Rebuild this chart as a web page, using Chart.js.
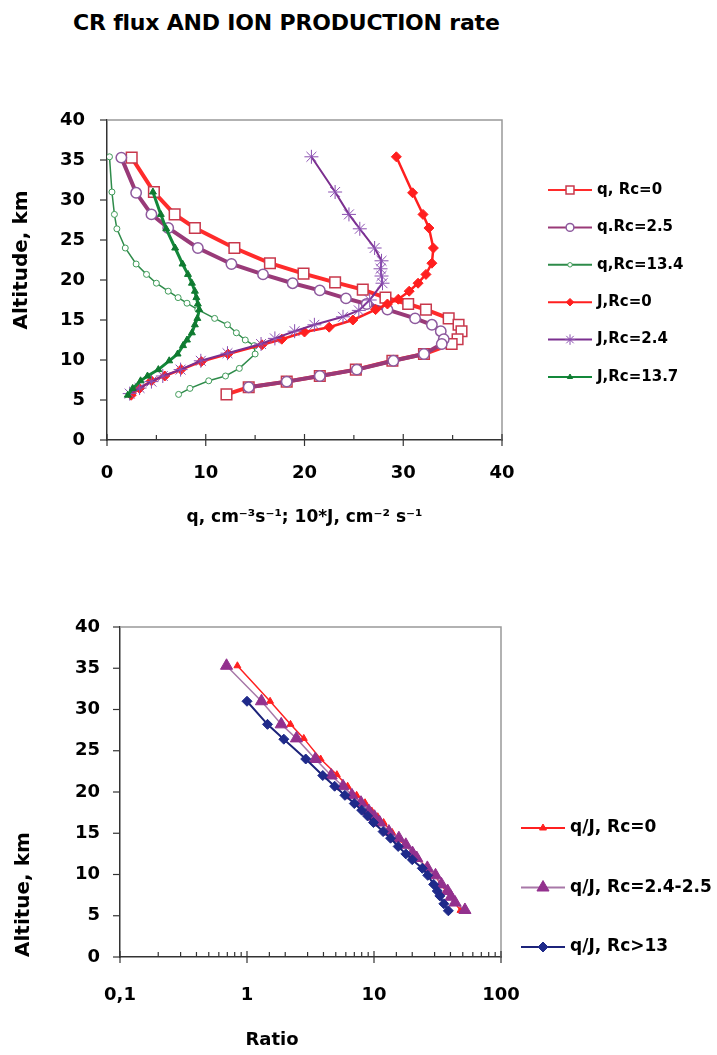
<!DOCTYPE html>
<html lang="en">
<head>
<meta charset="UTF-8">
<title>CR flux AND ION PRODUCTION rate</title>
<script src="https://cdn.jsdelivr.net/npm/chart.js"></script>
<style>
    body { margin: 0; background: #fff; }
    .page { position: relative; width: 717px; height: 1055px; overflow: hidden; }
    .titulo {
        position: absolute; left: 73px; top: 12px;
        font: bold 22px "DejaVu Sans", sans-serif; line-height: 22px;
        letter-spacing: -0.2px; color: #000; white-space: nowrap;
    }
    .box_top { position: absolute; left: 0; top: 0; width: 717px; height: 540px; }
    .box_bottom { position: absolute; left: 0; top: 560px; width: 717px; height: 495px; }
</style>
</head>
<body>
<div class="page">
    <div class="titulo">CR flux AND ION PRODUCTION rate</div>
    <div class="box_top"><canvas id="grafico_fluxo"></canvas></div>
    <div class="box_bottom"><canvas id="grafico_razao"></canvas></div>
</div>

<script>
// ---- top chart: q and 10*J against altitude ----
var altQ0  = [35.3, 31.0, 28.2, 26.5, 24.0, 22.1, 20.8, 19.7, 18.8, 17.8, 17.0, 16.3, 15.2, 14.4, 13.6, 12.6, 12.0, 10.75, 9.9, 8.8, 8.0, 7.3, 6.6, 5.7];
var qRc0   = [2.5, 4.75, 6.85, 8.9, 12.9, 16.5, 19.9, 23.1, 25.9, 28.2, 30.5, 32.3, 34.6, 35.6, 35.9, 35.5, 34.9, 32.1, 28.9, 25.2, 21.55, 18.2, 14.35, 12.1];

var altQ25 = [35.3, 30.9, 28.2, 26.5, 24.0, 22.0, 20.7, 19.6, 18.7, 17.7, 17.0, 16.3, 15.2, 14.4, 13.6, 12.6, 12.0, 10.75, 9.9, 8.8, 8.0, 7.3, 6.6];
var qRc25  = [1.45, 2.95, 4.5, 6.2, 9.2, 12.6, 15.8, 18.8, 21.55, 24.2, 26.3, 28.4, 31.2, 32.9, 33.8, 34.1, 33.9, 32.1, 29.0, 25.3, 21.55, 18.2, 14.35];

var altQ134 = [35.4, 31.0, 28.2, 26.4, 24.0, 22.0, 20.7, 19.6, 18.6, 17.8, 17.1, 16.3, 15.2, 14.4, 13.4, 12.5, 11.8, 10.75, 8.95, 8.0, 7.4, 6.45, 5.7];
var qRc134  = [0.25, 0.5, 0.75, 1.0, 1.85, 2.95, 4.0, 5.0, 6.2, 7.2, 8.1, 9.2, 10.9, 12.2, 13.1, 14.0, 14.9, 15.0, 13.4, 12.0, 10.3, 8.4, 7.25];

var altJ0 = [35.4, 30.9, 28.2, 26.5, 24.0, 22.1, 20.7, 19.6, 18.6, 17.6, 17.0, 16.3, 15.0, 14.1, 13.5, 12.6, 11.9, 10.75, 9.8, 8.8, 8.0, 7.4, 6.45, 5.6];
var jRc0  = [29.3, 30.95, 32.0, 32.6, 33.05, 32.9, 32.3, 31.5, 30.6, 29.5, 28.4, 27.2, 24.9, 22.5, 20.0, 17.7, 15.7, 12.25, 9.55, 7.5, 5.85, 4.5, 3.3, 2.45];

var altJ24 = [35.4, 31.0, 28.2, 26.4, 24.0, 22.4, 21.4, 20.5, 19.6, 17.5, 16.2, 15.4, 14.4, 13.6, 12.7, 12.0, 10.85, 9.9, 8.8, 8.0, 7.3, 6.5, 5.8];
var jRc24  = [20.7, 23.1, 24.5, 25.6, 27.1, 27.8, 27.7, 27.8, 27.9, 26.6, 25.5, 23.9, 21.0, 19.0, 17.0, 15.6, 12.2, 9.5, 7.45, 5.65, 4.5, 3.3, 2.3];

var altJ137 = [31.0, 28.2, 26.4, 24.0, 22.0, 20.7, 19.6, 18.6, 17.8, 17.0, 16.3, 15.2, 14.4, 13.4, 12.5, 11.8, 10.75, 9.9, 8.8, 8.0, 7.4, 6.45, 5.6];
var jRc137  = [4.65, 5.45, 6.0, 6.9, 7.65, 8.2, 8.6, 8.9, 9.05, 9.2, 9.35, 9.15, 8.9, 8.6, 8.1, 7.7, 7.15, 6.3, 5.2, 4.1, 3.4, 2.6, 2.1];

// ---- bottom chart: ratio q/J against altitude ----
var altR0    = [35.3, 31.0, 28.2, 26.5, 24.0, 22.1, 20.7, 19.6, 18.7, 17.7, 17.0, 16.3, 15.1, 14.2, 13.5, 12.6, 12.0, 10.75, 9.85, 8.8, 8.0, 7.35, 6.5, 5.65];
var ratioRc0 = [0.84, 1.52, 2.2, 2.8, 3.8, 5.1, 6.2, 7.3, 8.5, 9.6, 10.7, 11.9, 13.9, 15.8, 17.9, 20.1, 22.2, 26.2, 30.3, 33.6, 36.8, 40.4, 43.5, 48];

var altR25    = [35.3, 31.0, 28.2, 26.5, 24.0, 22.0, 20.7, 19.6, 18.7, 17.7, 17.0, 16.3, 15.2, 14.4, 13.6, 12.6, 12.0, 10.8, 9.9, 8.8, 8.0, 7.3, 6.6, 5.7];
var ratioRc25 = [0.69, 1.3, 1.86, 2.45, 3.45, 4.6, 5.7, 6.7, 7.9, 9.1, 10.1, 11.1, 13.1, 15.7, 17.8, 20.1, 21.7, 26.3, 30.5, 34, 38, 40.4, 43.5, 52];

var altR13    = [31.0, 28.2, 26.4, 24.0, 22.0, 20.7, 19.6, 18.6, 17.8, 17.1, 16.3, 15.2, 14.4, 13.4, 12.5, 11.8, 10.75, 9.9, 8.8, 8.0, 7.4, 6.45, 5.6];
var ratioRc13 = [1.0, 1.45, 1.95, 2.9, 3.95, 4.9, 5.9, 7.0, 8.0, 8.9, 9.9, 11.8, 13.5, 15.5, 17.8, 20.0, 24.0, 26.5, 29.5, 31.5, 33.0, 35.5, 38.5];

var logTickValues = [0.1, 1, 10, 100];
var logTickLabels = ['0,1', '1', '10', '100'];

function pontos(alts, vals) {
    return alts.map(function (a, i) { return { x: vals[i], y: a }; });
}

var fonte = '"DejaVu Sans", sans-serif';
Chart.defaults.color = '#000';
Chart.defaults.font.family = fonte;

// tick marks (major ones cross the axis, minor ones stay inside) + grey frame
var marcasEixo = {
    id: 'marcasEixo',
    afterDraw: function (chart) {
        var ctx = chart.ctx, a = chart.chartArea;
        var sx = chart.scales.x, sy = chart.scales.y;
        ctx.save();
        ctx.strokeStyle = '#999';
        ctx.lineWidth = 1.5;
        ctx.beginPath();
        ctx.moveTo(a.left, a.top);
        ctx.lineTo(a.right, a.top);
        ctx.lineTo(a.right, a.bottom);
        ctx.stroke();
        ctx.strokeStyle = '#333';
        ctx.lineWidth = 1.2;
        sx.ticks.forEach(function (t) {
            var px = sx.getPixelForValue(t.value);
            var major = t.label !== '';
            ctx.beginPath();
            ctx.moveTo(px, a.bottom - (major ? 6 : 5));
            ctx.lineTo(px, a.bottom + (major ? 6 : 0));
            ctx.stroke();
        });
        sy.ticks.forEach(function (t) {
            var py = sy.getPixelForValue(t.value);
            ctx.beginPath();
            ctx.moveTo(a.left - 7, py);
            ctx.lineTo(a.left, py);
            ctx.stroke();
        });
        ctx.restore();
    }
};

// axis titles placed by hand where the built-in centring doesn't match
var titulosEixo = {
    id: 'titulosEixo',
    afterDraw: function (chart, args, opts) {
        var ctx = chart.ctx;
        (opts.itens || []).forEach(function (it) {
            ctx.save();
            ctx.font = it.font;
            ctx.fillStyle = '#000';
            ctx.textAlign = 'center';
            ctx.textBaseline = 'middle';
            ctx.translate(it.x, it.y);
            if (it.rot) ctx.rotate(it.rot);
            ctx.fillText(it.text, 0, 0);
            ctx.restore();
        });
    }
};

// legend on the right: short line with the marker in the middle
var legendaLado = {
    id: 'legendaLado',
    afterDraw: function (chart, args, opts) {
        var ctx = chart.ctx, a = chart.chartArea;
        ctx.save();
        ctx.font = opts.font;
        ctx.textBaseline = 'middle';
        chart.data.datasets.forEach(function (ds, i) {
            var y = a.top + opts.top + i * opts.gap;
            var x0 = a.right + opts.left;
            ctx.strokeStyle = ds.borderColor;
            ctx.lineWidth = opts.lineWidth;
            ctx.beginPath();
            ctx.moveTo(x0, y);
            ctx.lineTo(x0 + opts.len, y);
            ctx.stroke();
            ctx.fillStyle = ds.pointBackgroundColor;
            ctx.strokeStyle = ds.pointBorderColor;
            ctx.lineWidth = ds.pointBorderWidth;
            Chart.helpers.drawPoint(ctx, {
                pointStyle: ds.pointStyle, rotation: 0,
                radius: ds.pointRadius * opts.scale, borderWidth: ds.pointBorderWidth
            }, x0 + opts.len / 2, y);
            ctx.fillStyle = '#000';
            ctx.fillText(ds.label, x0 + opts.len + opts.textGap, y);
        });
        ctx.restore();
    }
};

function serie(label, dados, cor, largura, estilo, raio, fundo, borda, bordaLarg, ordem) {
    return {
        label: label, data: dados,
        borderColor: cor, borderWidth: largura,
        pointStyle: estilo, pointRadius: raio,
        pointBackgroundColor: fundo, pointBorderColor: borda, pointBorderWidth: bordaLarg,
        tension: 0, order: ordem
    };
}

new Chart(document.getElementById('grafico_fluxo'), {
    type: 'line',
    data: {
        datasets: [
            serie('q, Rc=0', pontos(altQ0, qRc0), '#ff2b2b', 4, 'rect', 7.5, '#fff', '#c8384c', 1.5, 6),
            serie('q.Rc=2.5', pontos(altQ25, qRc25), '#993a78', 4, 'circle', 5.2, '#fff', '#8e5a9e', 1.5, 5),
            serie('q,Rc=13.4', pontos(altQ134, qRc134), '#2e8b4a', 1.5, 'circle', 3, '#fff', '#3f9a58', 1, 4),
            serie('J,Rc=0', pontos(altJ0, jRc0), '#ff1f1f', 2.5, 'rectRot', 5, '#ff1f1f', '#ff1f1f', 1, 3),
            serie('J,Rc=2.4', pontos(altJ24, jRc24), '#7b2f8f', 2, 'star', 7, '#8a4fb0', '#8a4fb0', 1, 2),
            serie('J,Rc=13.7', pontos(altJ137, jRc137), '#13883a', 3, 'triangle', 4, '#0f7a30', '#0f7a30', 1, 1)
        ]
    },
    options: {
        responsive: true,
        maintainAspectRatio: false,
        animation: false,
        events: [],
        layout: { padding: { left: 0, top: 120, right: 215, bottom: 0 } },
        plugins: {
            legend: { display: false },
            tooltip: { enabled: false },
            legendaLado: { top: 70, gap: 37.4, left: 46, len: 44, textGap: 5, lineWidth: 2, scale: 0.75,
                           font: 'bold 15px ' + fonte },
            titulosEixo: { itens: [
                { text: 'Altitude, km', x: 22, y: 260, rot: -Math.PI / 2, font: 'bold 20px ' + fonte }
            ] }
        },
        scales: {
            x: {
                type: 'linear', min: 0, max: 40,
                afterFit: function (s) { s.height = 100; },
                grid: { display: false, drawTicks: false },
                border: { display: true, color: '#333', width: 1.5 },
                ticks: {
                    stepSize: 5, autoSkip: false, maxRotation: 0, padding: 23,
                    font: { size: 18, weight: 'bold' },
                    callback: function (v) { return v % 10 === 0 ? String(v) : ''; }
                },
                title: { display: true, text: 'q, cm\u207B\u00B3s\u207B\u00B9; 10*J, cm\u207B\u00B2 s\u207B\u00B9',
                         font: { size: 17, weight: 'bold' }, padding: { top: 0, bottom: 12 } }
            },
            y: {
                type: 'linear', min: 0, max: 40,
                afterFit: function (s) { s.width = 107; },
                grid: { display: false, drawTicks: false },
                border: { display: true, color: '#333', width: 1.5 },
                ticks: { stepSize: 5, padding: 22, font: { size: 18, weight: 'bold' } }
            }
        }
    },
    plugins: [marcasEixo, legendaLado, titulosEixo]
});

new Chart(document.getElementById('grafico_razao'), {
    type: 'line',
    data: {
        datasets: [
            serie('q/J, Rc=0', pontos(altR0, ratioRc0), '#ff2020', 1.5, 'triangle', 4, '#ff2020', '#ff2020', 1, 3),
            serie('q/J, Rc=2.4-2.5', pontos(altR25, ratioRc25), '#a878a8', 1.5, 'triangle', 7, '#93318e', '#93318e', 1, 2),
            serie('q/J, Rc>13', pontos(altR13, ratioRc13), '#1c237a', 2, 'rectRot', 5, '#1f2a8a', '#1f2a8a', 1, 1)
        ]
    },
    options: {
        responsive: true,
        maintainAspectRatio: false,
        animation: false,
        events: [],
        layout: { padding: { left: 0, top: 67, right: 216, bottom: 0 } },
        plugins: {
            legend: { display: false },
            tooltip: { enabled: false },
            legendaLado: { top: 201, gap: 59.5, left: 20, len: 44, textGap: 5, lineWidth: 2, scale: 1,
                           font: 'bold 17px ' + fonte },
            titulosEixo: { itens: [
                { text: 'Ratio', x: 272, y: 480, font: 'bold 18px ' + fonte }
            ] }
        },
        scales: {
            x: {
                type: 'logarithmic', min: 0.1, max: 100,
                afterFit: function (s) { s.height = 98; },
                grid: { display: false, drawTicks: false },
                border: { display: true, color: '#333', width: 1.5 },
                ticks: {
                    autoSkip: false, maxRotation: 0, padding: 28,
                    font: { size: 18, weight: 'bold' },
                    callback: function (v) {
                        for (var i = 0; i < logTickValues.length; i++) {
                            if (Math.abs(v - logTickValues[i]) < 1e-9) return logTickLabels[i];
                        }
                        return '';
                    }
                }
            },
            y: {
                type: 'linear', min: 0, max: 40,
                afterFit: function (s) { s.width = 120; },
                grid: { display: false, drawTicks: false },
                border: { display: true, color: '#333', width: 1.5 },
                ticks: { stepSize: 5, padding: 20, font: { size: 18, weight: 'bold' } },
                title: { display: true, text: 'Altitue, km', align: 'start', font: { size: 20, weight: 'bold' },
                         padding: { top: 12, bottom: 0 } }
            }
        }
    },
    plugins: [marcasEixo, legendaLado, titulosEixo]
});
</script>
</body>
</html>
